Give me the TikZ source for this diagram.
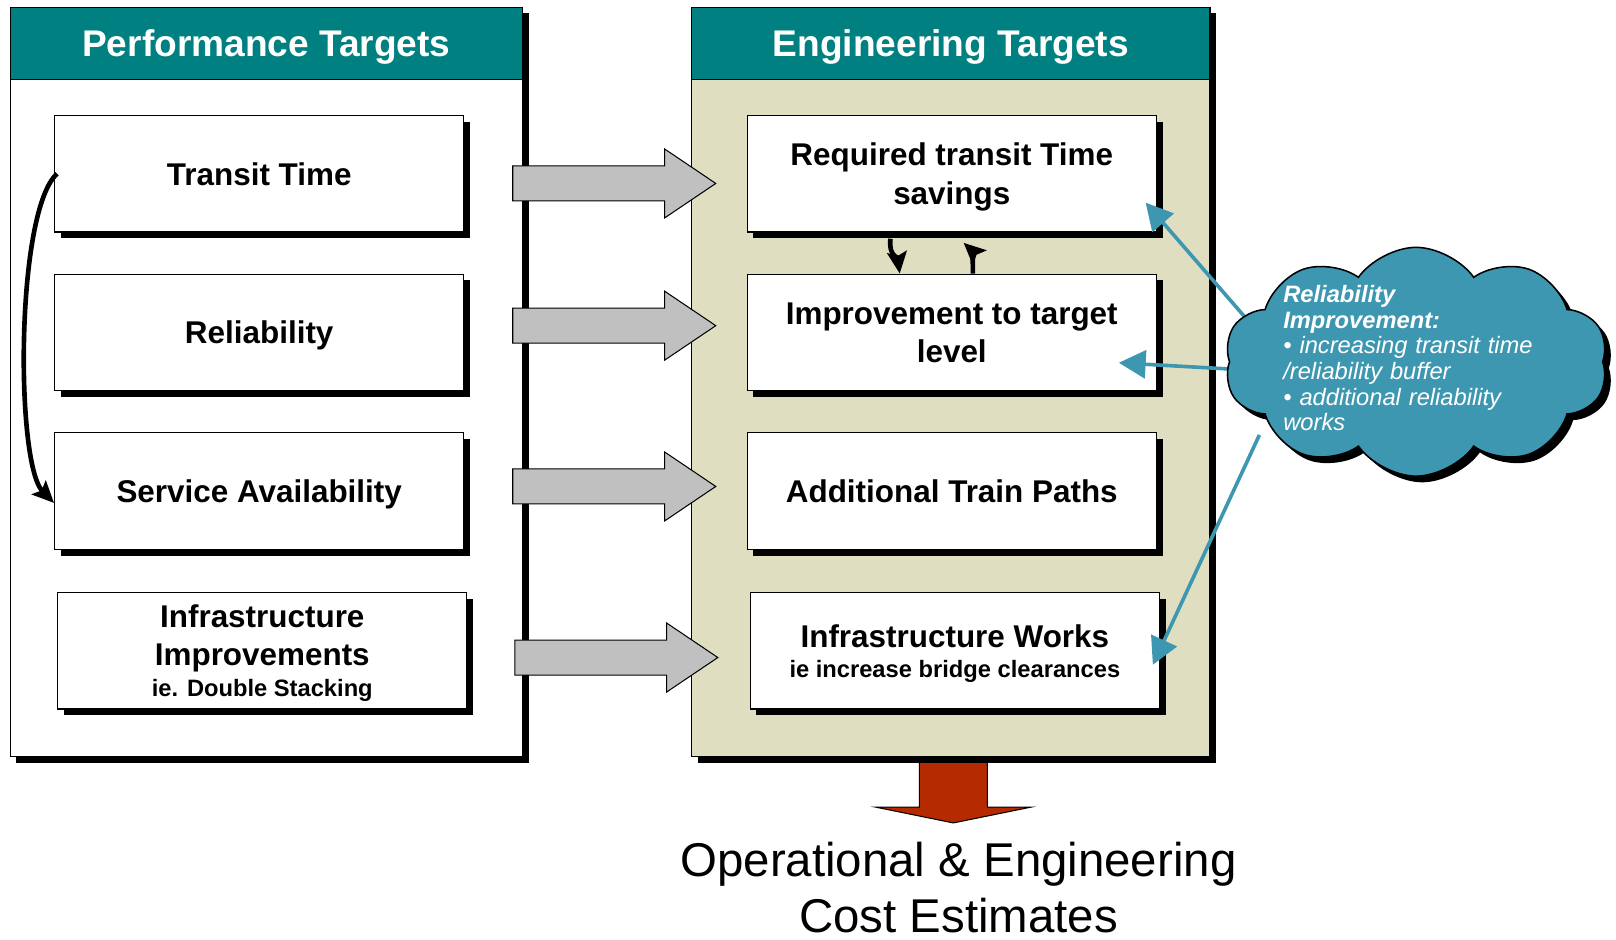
\documentclass[tikz,border=0pt]{standalone}
\usepackage{fontspec}
\setmainfont{Liberation Sans}
\usetikzlibrary{arrows.meta, shapes.arrows, shapes.symbols, shadows}

\definecolor{headteal}{RGB}{0,128,128}
\definecolor{engbeige}{RGB}{224,222,192}
\definecolor{cloudblue}{RGB}{62,151,177}
\definecolor{costred}{RGB}{181,42,0}
\definecolor{arrowgrey}{RGB}{192,192,192}

\newcommand{\boxfont}{\fontsize{30.5}{37}\selectfont\bfseries}
\newcommand{\notefont}{\fontsize{23}{27}\selectfont\bfseries}

\tikzstyle{block} = [rectangle, draw, fill=white, line width=1.2pt,
                 minimum width=397pt, minimum height=113pt, align=center,
                 text depth=0pt, font=\boxfont, blackshadow]
\tikzset{
	blackshadow/.style={drop shadow={shadow xshift=6pt, shadow yshift=-6pt,
		fill=black, opacity=1}},
	panel/.style={rectangle, draw, line width=1.2pt, minimum width=#1,
		minimum height=727pt, blackshadow},
	panelhead/.style={rectangle, draw, line width=1.2pt, fill=headteal,
		text=white, minimum width=#1, minimum height=70pt, anchor=north,
		text depth=0pt, font=\fontsize{36}{40}\selectfont\bfseries},
	greyarrow/.style={single arrow, draw, line width=1pt, fill=arrowgrey,
		inner xsep=0pt, inner ysep=16.5pt, minimum height=197pt,
		minimum width=66pt, single arrow head extend=16.5pt,
		single arrow tip angle=68, anchor=tail},
	costarrow/.style={single arrow, rotate=-90, draw, line width=1pt,
		fill=costred, inner xsep=0pt, inner ysep=32.5pt, minimum height=62pt,
		minimum width=150pt, single arrow head extend=42.5pt,
		single arrow tip angle=157, anchor=tail},
	linkarrow/.style={draw, line width=4.5pt,
		-{Stealth[length=21pt, width=19pt, inset=4pt]}},
	relarrow/.style={draw=cloudblue, line width=3.5pt,
		-{Triangle[length=26pt, width=27pt]}},
	cloudnote/.style={text=white, align=left, inner sep=0pt,
		text width=270pt, font=\fontsize{23}{24.8}\selectfont\itshape},
}

\begin{document}
\begin{tikzpicture}[x=1pt, y=-1pt]
\useasboundingbox (0,0) rectangle (1568,912);

% arrow down to the estimates, under the panel shadow
\node [costarrow] at (925,736) (costdown) {};

% panels
\node [panel=497pt, fill=white] at (258.5,370.5) (perf) {};
\node [panelhead=497pt] at (perf.north) (perfhead) {Performance Targets};
\node [panel=503pt, fill=engbeige] at (922.5,370.5) (eng) {};
\node [panelhead=503pt] at (eng.north) (enghead) {Engineering Targets};

\node [block] at (251.5,168.5) (transit) {Transit Time};
\node [block] at (251.5,322.5) (reliab) {Reliability};
\node [block] at (251.5,476.5) (service) {Service Availability};
\node [block] at (254.5,631.5) (infra)
	{Infrastructure\\Improvements\\[-7pt]{\notefont ie. Double Stacking}};

\node [block] at (923.5,168.5) (reqtime) {Required transit Time\\savings};
\node [block] at (923.5,322.5) (improve) {Improvement to target\\level};
\node [block] at (923.5,476.5) (paths) {Additional Train Paths};
\node [block] at (926.5,631.5) (works)
	{Infrastructure Works\\[-8pt]{\notefont ie increase bridge clearances}};

\node [greyarrow] at (497,178) (push1) {};
\node [greyarrow] at (497,316) (push2) {};
\node [greyarrow] at (497,472) (push3) {};
\node [greyarrow] at (499,638) (push4) {};

% links between the boxes
\path [linkarrow] ([xshift=3pt]transit.west)
	.. controls (15,205) and (15,450) .. ([yshift=-11.5pt]service.west);
\path [linkarrow] ([xshift=-59.5pt,yshift=-6pt]reqtime.south)
	.. controls (862,248) and (871,250) .. ([xshift=-50.5pt]improve.north);
\path [linkarrow] ([xshift=20.5pt]improve.north)
	.. controls (944,250) and (943,243) .. ([xshift=11.5pt,yshift=-10pt]reqtime.south);

% reliability note
\coordinate (cloudc) at (1374,351);
\path [relarrow] ([xshift=-158pt,yshift=34pt]cloudc)
	-- ([xshift=-11pt,yshift=29pt]reqtime.south east);
\path [relarrow] ([xshift=-182pt,yshift=-7pt]cloudc)
	-- ([xshift=-37pt,yshift=-29.5pt]improve.east);
\path [relarrow] ([xshift=-152pt,yshift=-71pt]cloudc)
	-- ([xshift=-7pt,yshift=-13.5pt]works.east);

\node [cloud, cloud puffs=10, cloud puff arc=110, draw, line width=1.5pt,
	fill=cloudblue, minimum width=372pt, minimum height=222pt, blackshadow]
	at (cloudc) (cloud) {};
\node [cloudnote, anchor=north west] at (1245,277) (relnote)
	{\textbf{Reliability}\\\textbf{Improvement:}\\• increasing transit time\\
	/reliability buffer\\• additional reliability\\works};

\node [anchor=north, align=center, inner sep=0pt,
	font=\fontsize{46}{54}\selectfont] at (930,817) (cost)
	{Operational \& Engineering\\Cost Estimates};

\end{tikzpicture}
\end{document}
